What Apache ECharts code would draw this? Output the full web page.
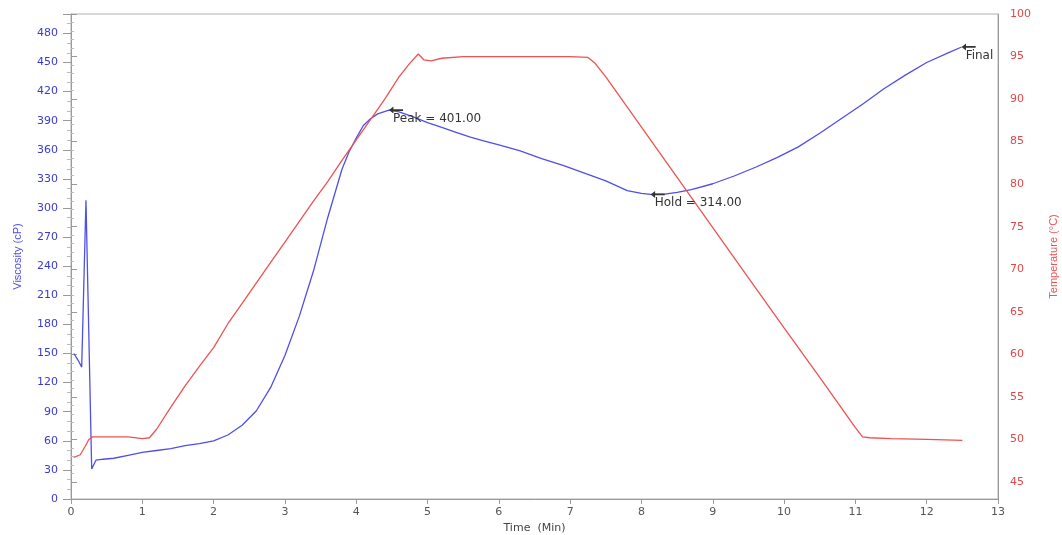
<!DOCTYPE html>
<html>
<head>
<meta charset="utf-8">
<script src="https://cdn.jsdelivr.net/npm/echarts@6/dist/echarts.min.js"></script>
<style>html,body{margin:0;padding:0;background:#fff;}#c{width:1062px;height:535px;}</style>
</head>
<body>
<div id="c"></div>
<script>
// Viscosity (cP) vs time (min)
const visTime = [0.04,0.10,0.15,0.21,0.29,0.35,0.45,0.6,0.8,1.0,1.2,1.4,1.6,1.8,2.0,2.2,2.4,2.6,2.8,3.0,3.2,3.4,3.6,3.8,3.9,4.0,4.1,4.2,4.3,4.46,4.6,4.8,5.0,5.2,5.4,5.6,5.8,6.0,6.3,6.6,6.9,7.2,7.5,7.8,8.0,8.13,8.3,8.5,8.7,9.0,9.3,9.6,9.9,10.2,10.5,10.8,11.1,11.4,11.7,12.0,12.3,12.49];
const visValue = [150,143,136,308,31,40,41,42,45,48,50,52,55,57,60,66,76,91,115,148,188,235,290,340,358,372,385,392,397,401,399,394,388,383,378,373,369,365,359,351,344,336,328,318,315,314,314,316,319,325,333,342,352,363,377,392,407,423,437,450,460,466];
// Temperature (°C) vs time (min)
const tempTime = [0.04,0.13,0.2,0.25,0.3,0.5,0.8,1.0,1.1,1.2,1.4,1.6,1.8,2.0,2.2,2.4,2.6,2.8,3.0,3.2,3.4,3.6,3.8,4.0,4.2,4.4,4.6,4.75,4.87,4.95,5.05,5.2,5.5,6.0,6.5,7.0,7.25,7.35,7.5,8.0,8.5,9.0,9.5,10.0,10.5,11.0,11.1,11.2,11.5,12.0,12.5];
const tempValue = [47.9,48.2,49.2,50.0,50.3,50.3,50.3,50.1,50.2,51.2,53.8,56.3,58.6,60.8,63.6,66.0,68.4,70.8,73.2,75.6,78.0,80.3,82.8,85.2,87.6,90.0,92.6,94.2,95.3,94.6,94.5,94.8,95.0,95.0,95.0,95.0,94.9,94.2,92.6,86.7,80.8,74.9,69.0,63.1,57.3,51.4,50.3,50.2,50.1,50.0,49.9];
// Annotated points
const notes = [
  {label: 'Peak', time: 4.46, value: 401.00, showValue: true},
  {label: 'Hold', time: 8.13, value: 314.00, showValue: true},
  {label: 'Final', time: 12.49, value: 466.00, showValue: false}
];

const BLUE = '#4f4fe8', RED = '#ee5252', AXIS = '#9a9a9a';
const FONT = 'DejaVu Sans';
const arrow = 'path://M0,4 L5,0 L5,3 L16,3 L16,5 L5,5 L5,8 Z';

const chart = echarts.init(document.getElementById('c'), null, {renderer: 'canvas'});
chart.setOption({
  animation: false,
  backgroundColor: '#fff',
  grid: [
    {left: 71, right: 64, top: 14, bottom: 36, show: true, borderColor: '#b0b0b0', borderWidth: 1, outerBoundsMode: 'none', containLabel: false},
    {left: 71, right: 64, top: 14, bottom: 53, show: false, outerBoundsMode: 'none', containLabel: false}
  ],
  xAxis: [
    {type: 'value', gridIndex: 0, min: 0, max: 13, interval: 1,
     name: 'Time  (Min)', nameLocation: 'middle', nameGap: 21,
     nameTextStyle: {color: '#444', fontSize: 11, fontFamily: FONT},
     axisLine: {show: true, lineStyle: {color: AXIS}},
     axisTick: {show: true, length: 5, lineStyle: {color: AXIS}},
     axisLabel: {color: '#555', fontSize: 11, fontFamily: FONT, margin: 8},
     splitLine: {show: false}},
    {type: 'value', gridIndex: 1, min: 0, max: 13, show: false}
  ],
  yAxis: [
    {type: 'value', gridIndex: 0, position: 'left', min: 0, max: 500, interval: 30,
     name: 'Viscosity (cP)', nameLocation: 'middle', nameGap: 48, nameRotate: 90,
     nameTextStyle: {color: BLUE, fontSize: 11, fontFamily: 'Liberation Sans'},
     axisLine: {show: true, lineStyle: {color: AXIS}},
     axisTick: {show: true, length: 8, lineStyle: {color: AXIS}},
     minorTick: {show: true, splitNumber: 3, length: 4, lineStyle: {color: '#bbb'}},
     axisLabel: {color: '#3a3ad0', fontSize: 11, fontFamily: FONT, margin: 13, showMaxLabel: false},
     splitLine: {show: false}},
    {type: 'value', gridIndex: 0, position: 'right', min: 43, max: 100,
     name: 'Temperature (°C)', nameLocation: 'middle', nameGap: 50, nameRotate: 90,
     nameTextStyle: {color: RED, fontSize: 11, fontFamily: 'Liberation Sans'},
     axisLine: {show: true, lineStyle: {color: AXIS}},
     axisTick: {show: false}, axisLabel: {show: false}, splitLine: {show: false}},
    {type: 'value', gridIndex: 1, position: 'right', min: 45, max: 100, interval: 5,
     axisLine: {show: false},
     axisTick: {show: true, length: 6, lineStyle: {color: AXIS}},
     minorTick: {show: true, splitNumber: 5, length: 3, lineStyle: {color: '#bbb'}},
     axisLabel: {color: '#e04848', fontSize: 11, fontFamily: FONT, margin: 12},
     splitLine: {show: false}}
  ],
  series: [
    {name: 'Viscosity', type: 'line', xAxisIndex: 0, yAxisIndex: 0,
     data: visTime.map((t, i) => [t, visValue[i]]),
     showSymbol: false, symbol: 'none', smooth: false,
     lineStyle: {color: BLUE, width: 1.3}, itemStyle: {color: BLUE},
     markPoint: {
       symbol: arrow, symbolSize: [14, 7], symbolOffset: [7, 0],
       itemStyle: {color: '#333'},
       label: {show: true, position: [4, 6], align: 'left', verticalAlign: 'top',
               color: '#333', fontSize: 12, fontFamily: FONT,
               formatter: p => p.name},
       data: notes.map(n => ({
         name: n.showValue ? `${n.label} = ${n.value.toFixed(2)}` : n.label,
         coord: [n.time, n.value]
       }))
     }},
    {name: 'Temperature', type: 'line', xAxisIndex: 1, yAxisIndex: 2,
     data: tempTime.map((t, i) => [t, tempValue[i]]),
     showSymbol: false, symbol: 'none',
     lineStyle: {color: RED, width: 1.3}, itemStyle: {color: RED}}
  ]
});
</script>
</body>
</html>
